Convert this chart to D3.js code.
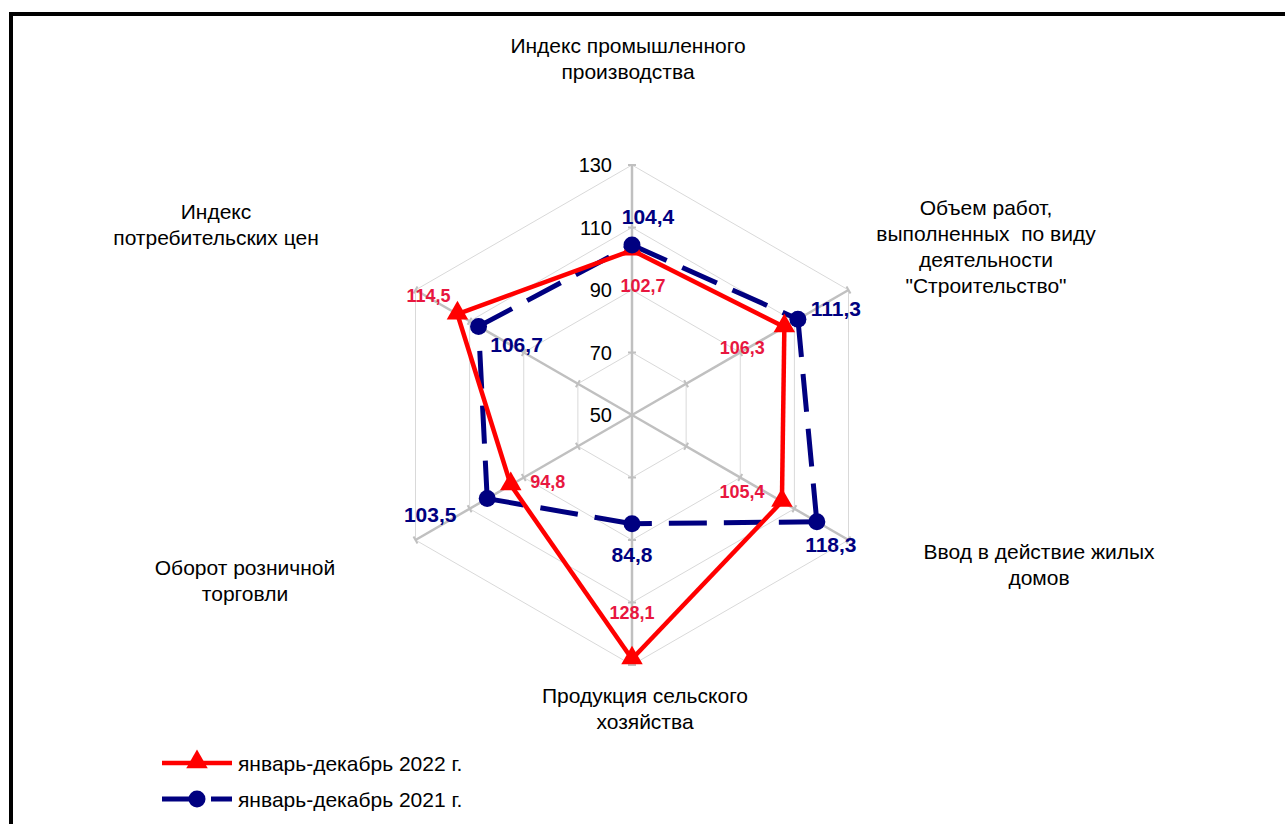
<!DOCTYPE html>
<html>
<head>
<meta charset="utf-8">
<title>Radar</title>
<script src="https://cdn.jsdelivr.net/npm/d3@7/dist/d3.min.js"></script>
<style>
  body { margin: 0; background: #fff; }
  svg text { font-family: "Liberation Sans", Arial, sans-serif; }
</style>
</head>
<body>
<div id="chart"></div>
<script>
// data
var categories = [
    ["Индекс промышленного", "производства"],
    ["Объем работ,", "выполненных  по виду", "деятельности", "\"Строительство\""],
    ["Ввод в действие жилых", "домов"],
    ["Продукция сельского", "хозяйства"],
    ["Оборот розничной", "торговли"],
    ["Индекс", "потребительских цен"]
];
var values2022 = [102.7, 106.3, 105.4, 128.1, 94.8, 114.5];
var values2021 = [104.4, 111.3, 118.3, 84.8, 103.5, 106.7];
var ticks = [50, 70, 90, 110, 130];
var seriesNames = ["январь-декабрь 2022 г.", "январь-декабрь 2021 г."];

// layout (label placement, px)
var catPos = [[628, 53], [986, 215], [1039, 559], [645, 703], [245, 575], [216, 219]];
var off2022 = [[11, 35], [-42, 21], [-40, -10], [0, -46], [37, -3], [-29, -19]];
var off2021 = [[16, -28], [38, -11], [14, 23], [0, 31], [-57, 16], [38, 18]];

var W = 1285, H = 824;
var cx = 632, cy = 415, R = 250;

var svg = d3.select('#chart').append('svg')
    .attr('width', W).attr('height', H);

svg.append('rect')
    .attr('x', 11).attr('y', 14).attr('width', 1400).attr('height', 900)
    .attr('fill', 'none').attr('stroke', '#000').attr('stroke-width', 4);

var r = d3.scaleLinear().domain([50, 130]).range([0, R]);
var ang = function(i) { return i * Math.PI / 3; };
var px = function(i, v) { return cx + r(v) * Math.sin(ang(i)); };
var py = function(i, v) { return cy - r(v) * Math.cos(ang(i)); };
var idx = d3.range(categories.length);

// grid hexagons
ticks.slice(1).forEach(function(t) {
    svg.append('polygon')
        .attr('points', idx.map(function(i) { return px(i, t) + ',' + py(i, t); }).join(' '))
        .attr('fill', 'none').attr('stroke', '#d9d9d9').attr('stroke-width', 1);
});

// axes with tick marks
idx.forEach(function(i) {
    svg.append('line')
        .attr('x1', cx).attr('y1', cy)
        .attr('x2', px(i, 130)).attr('y2', py(i, 130))
        .attr('stroke', '#c0c0c0').attr('stroke-width', 2.5);
    ticks.slice(1).forEach(function(t) {
        var a = ang(i), x = px(i, t), y = py(i, t);
        svg.append('line')
            .attr('x1', x - 4 * Math.cos(a)).attr('y1', y - 4 * Math.sin(a))
            .attr('x2', x + 4 * Math.cos(a)).attr('y2', y + 4 * Math.sin(a))
            .attr('stroke', '#c0c0c0').attr('stroke-width', 2);
    });
});

// tick labels
svg.selectAll('.tick').data(ticks).enter().append('text')
    .attr('x', cx - 20).attr('y', function(d) { return cy - r(d); })
    .attr('dy', '0.35em').attr('text-anchor', 'end')
    .attr('font-size', 20).attr('fill', '#000')
    .text(function(d) { return d; });

// category labels
categories.forEach(function(lines, i) {
    var t = svg.append('text')
        .attr('text-anchor', 'middle').attr('font-size', 21).attr('fill', '#000');
    lines.forEach(function(s, k) {
        t.append('tspan').attr('x', catPos[i][0]).attr('y', catPos[i][1] + k * 26)
            .attr('xml:space', 'preserve').text(s);
    });
});

// series lines, drawn segment by segment so dashes restart at each vertex
function drawSeries(vals, color, dash) {
    idx.forEach(function(i) {
        var j = (i + 1) % vals.length;
        svg.append('line')
            .attr('x1', px(i, vals[i])).attr('y1', py(i, vals[i]))
            .attr('x2', px(j, vals[j])).attr('y2', py(j, vals[j]))
            .attr('stroke', color).attr('stroke-width', dash ? 5 : 4.5)
            .attr('stroke-dasharray', dash || null);
    });
}
drawSeries(values2021, '#000080', '38,17');
drawSeries(values2022, '#ff0000', null);

var tri = d3.symbol().type(d3.symbolTriangle).size(200);
svg.selectAll('.m22').data(values2022).enter().append('path')
    .attr('d', tri)
    .attr('transform', function(d, i) { return 'translate(' + px(i, d) + ',' + (py(i, d) - 1) + ')'; })
    .attr('fill', '#ff0000');
svg.selectAll('.m21').data(values2021).enter().append('circle')
    .attr('cx', function(d, i) { return px(i, d); })
    .attr('cy', function(d, i) { return py(i, d); })
    .attr('r', 8.5).attr('fill', '#000080');

var fmt = function(v) { return d3.format('.1f')(v).replace('.', ','); };

// data labels
svg.selectAll('.l22').data(values2022).enter().append('text')
    .attr('x', function(d, i) { return px(i, d) + off2022[i][0]; })
    .attr('y', function(d, i) { return py(i, d) + off2022[i][1]; })
    .attr('dy', '0.35em').attr('text-anchor', 'middle')
    .attr('font-size', 18).attr('font-weight', 'bold').attr('fill', '#e8173f')
    .text(fmt);
svg.selectAll('.l21').data(values2021).enter().append('text')
    .attr('x', function(d, i) { return px(i, d) + off2021[i][0]; })
    .attr('y', function(d, i) { return py(i, d) + off2021[i][1]; })
    .attr('dy', '0.35em').attr('text-anchor', 'middle')
    .attr('font-size', 21).attr('font-weight', 'bold').attr('fill', '#000080')
    .text(fmt);

// legend
var lg = svg.append('g');
lg.append('line').attr('x1', 162).attr('x2', 232).attr('y1', 763).attr('y2', 763)
    .attr('stroke', '#ff0000').attr('stroke-width', 4.5);
lg.append('path').attr('d', tri).attr('transform', 'translate(197,762)').attr('fill', '#ff0000');
lg.append('line').attr('x1', 162).attr('x2', 232).attr('y1', 799).attr('y2', 799)
    .attr('stroke', '#000080').attr('stroke-width', 5).attr('stroke-dasharray', '43,6');
lg.append('circle').attr('cx', 197).attr('cy', 799).attr('r', 8.5).attr('fill', '#000080');
lg.selectAll('.lt').data(seriesNames).enter().append('text')
    .attr('x', 238).attr('y', function(d, i) { return 764 + i * 36; })
    .attr('dy', '0.35em').attr('font-size', 21).attr('fill', '#000')
    .text(function(d) { return d; });
</script>
</body>
</html>
